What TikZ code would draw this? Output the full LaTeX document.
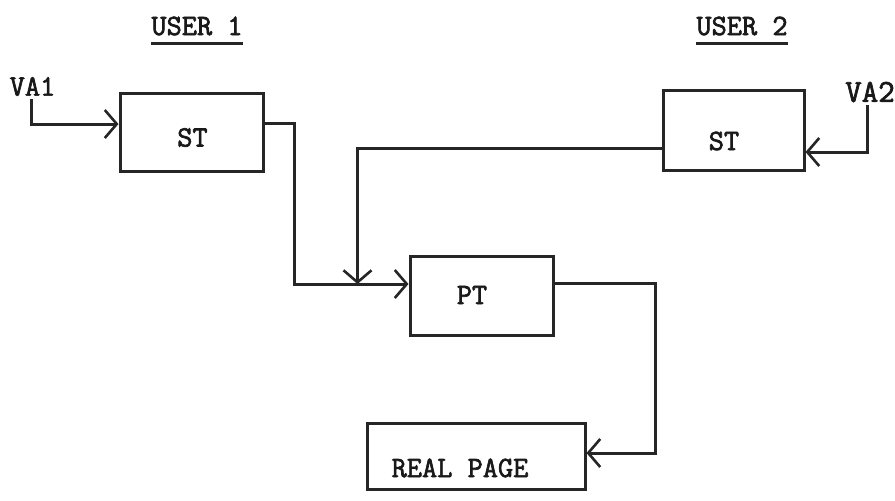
\documentclass[tikz,border=0pt]{standalone}
\usepackage{fontspec}
\newfontfamily\twfont{Latin Modern Mono}[FakeBold=2.2]
\usetikzlibrary{arrows.meta}
\begin{document}
\begin{tikzpicture}[x=1pt,y=-1pt,
  box/.style={draw=black!85,line width=3pt,minimum width=#1,inner sep=0pt},
  lbl/.style={font=\fontsize{29.5}{30}\selectfont\twfont\bfseries,inner sep=0pt,text=black!90},
  wire/.style={draw=black!85,line width=3pt},
  arr/.style={wire,-{Straight Barb[length=12pt,width=28pt,line width=2.6pt]}},
  uline/.style={draw=black!85,line width=2.6pt}]
\useasboundingbox (0,0) rectangle (895,501);
% boxes
\node[box=143pt,minimum height=78pt] (st1) at (191.5,132) {};
\node[box=141pt,minimum height=80pt] (st2) at (733.5,130) {};
\node[box=143pt,minimum height=79pt] (pt) at (481.5,295.5) {};
\node[box=218pt,minimum height=66pt] (rp) at (476,456) {};
% texts
\node[lbl] (st1t) at (192.5,137.5) {ST};
\node[lbl] (st2t) at (724,141) {ST};
\node[lbl] (ptt) at (472,295) {PT};
\node[lbl] (rpt) at (460,468) {REAL PAGE};
\node[lbl] (va1) at (32.5,86.5) {VA1};
\node[lbl,font=\fontsize{32}{33}\selectfont\twfont\bfseries] (va2) at (870,92) {VA2};
\node[lbl] (u1) at (197,26) {USER 1};
\node[lbl] (u2) at (742,26) {USER 2};
\draw[uline] ([yshift=-8pt]u1.south west) -- ([yshift=-8pt]u1.south east);
\draw[uline] ([yshift=-8pt]u2.south west) -- ([yshift=-8pt]u2.south east);
% connectors
\draw[arr] ([xshift=-1.5pt,yshift=-3pt]va1.south) |- ([yshift=8pt]st1.west);
\draw[arr] ([yshift=9pt]st1.east) -- ++(30,0) |- ([yshift=11.5pt]pt.west);
\draw[arr] ([yshift=-18pt]st2.west) -| ([xshift=-51pt,yshift=11.5pt]pt.west);
\draw[arr] ([xshift=-3pt,yshift=-3pt]va2.south) |- ([yshift=-22pt]st2.east);
\draw[arr] ([yshift=12.5pt]pt.east) -- ++(101,0) |- ([yshift=3pt]rp.east);
\end{tikzpicture}
\end{document}
